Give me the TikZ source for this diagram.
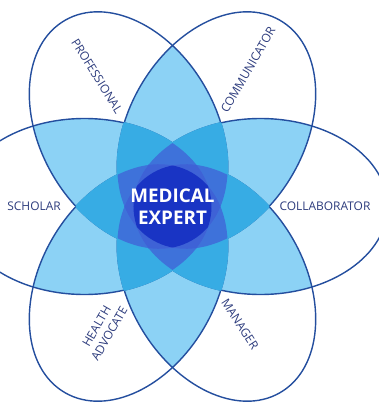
\documentclass[tikz,border=0pt]{standalone}
\usepackage{fontspec}
\setsansfont{Open Sans}
\usetikzlibrary{calc}

\definecolor{lineblue}{RGB}{36,78,158}
\definecolor{twoblue}{RGB}{140,210,245}
\definecolor{threeblue}{RGB}{55,172,228}
\definecolor{fourblue}{RGB}{62,114,218}
\definecolor{fiveblue}{RGB}{62,98,214}
\definecolor{sixblue}{RGB}{25,52,196}
\definecolor{labelblue}{RGB}{45,60,125}

% one petal, lying along the x axis (units are pixels of the reference)
\def\petalpath{(88,0) ellipse[x radius=127,y radius=88]}

\tikzset{
  outline/.style={draw=lineblue,line width=1pt},
  role/.style={text=labelblue,font=\sffamily\fontsize{8.5}{10.4}\selectfont,align=center,inner sep=0pt},
  expert/.style={text=white,font=\sffamily\bfseries\fontsize{13.4}{15.8}\selectfont,align=center,inner sep=0pt}
}

\begin{document}
\begin{tikzpicture}[x=0.025cm,y=0.025cm]
    % frame of the picture, centre of the flower at the origin
    \useasboundingbox (-172.5,-196.5) rectangle (206.5,206.5);
    \clip (-172.5,-196.5) rectangle (206.5,206.5);
    \coordinate (centro) at (0,0);

    % two petals overlap
    \foreach \r in {0,60,...,300}
      \foreach \b in {60,120,180}{
        \begin{scope}[rotate=\r]
          \clip \petalpath;
          \fill[twoblue,rotate=\b] \petalpath;
        \end{scope}
      }

    % outlines of the six petals
    \foreach \a in {0,60,...,300}
      \draw[outline,rotate=\a] \petalpath;

    % three petals overlap (this also hides the outlines in there)
    \foreach \r in {0,60,...,300}
      \foreach \a/\b in {60/120,60/180,60/240,60/300,120/180,120/240,120/300,180/240,180/300,240/300}{
        \begin{scope}[rotate=\r]
          \clip[rotate=\a] \petalpath;
          \clip[rotate=\b] \petalpath;
          \filldraw[threeblue,line width=1.1pt] \petalpath;
        \end{scope}
      }

    % four petals overlap
    \foreach \r in {0,60,...,300}
      \foreach \b/\c/\d in {60/120/180,60/120/240,60/180/240}{
        \begin{scope}[rotate=\r]
          \clip \petalpath;
          \clip[rotate=\b] \petalpath;
          \clip[rotate=\c] \petalpath;
          \fill[fourblue,rotate=\d] \petalpath;
        \end{scope}
      }

    % five petals overlap
    \foreach \r in {0,60,...,300}{
      \begin{scope}[rotate=\r]
        \clip \petalpath;
        \clip[rotate=60] \petalpath;
        \clip[rotate=120] \petalpath;
        \clip[rotate=180] \petalpath;
        \fill[fiveblue,rotate=240] \petalpath;
      \end{scope}
    }

    % all six
    \begin{scope}
      \foreach \a in {0,60,...,240}
        \clip[rotate=\a] \petalpath;
      \fill[sixblue,rotate=300] \petalpath;
    \end{scope}

    % labels
    \node[expert] (expert) at (centro) {MEDICAL\\EXPERT};
    \node[role] (collaborator) at (152.5,0.5) {COLLABORATOR};
    \node[role,anchor=east] (scholar) at (-111.5,0.5) {SCHOLAR};
    \node[role,rotate=-58] (professional) at (-75.5,130.5) {PROFESSIONAL};
    \node[role,rotate=60] (communicator) at (75.5,136.5) {COMMUNICATOR};
    \node[role,rotate=60] (advocate) at (-69.5,-123.5) {HEALTH\\ADVOCATE};
    \node[role,rotate=-57] (manager) at (67.5,-117.5) {MANAGER};
\end{tikzpicture}
\end{document}
